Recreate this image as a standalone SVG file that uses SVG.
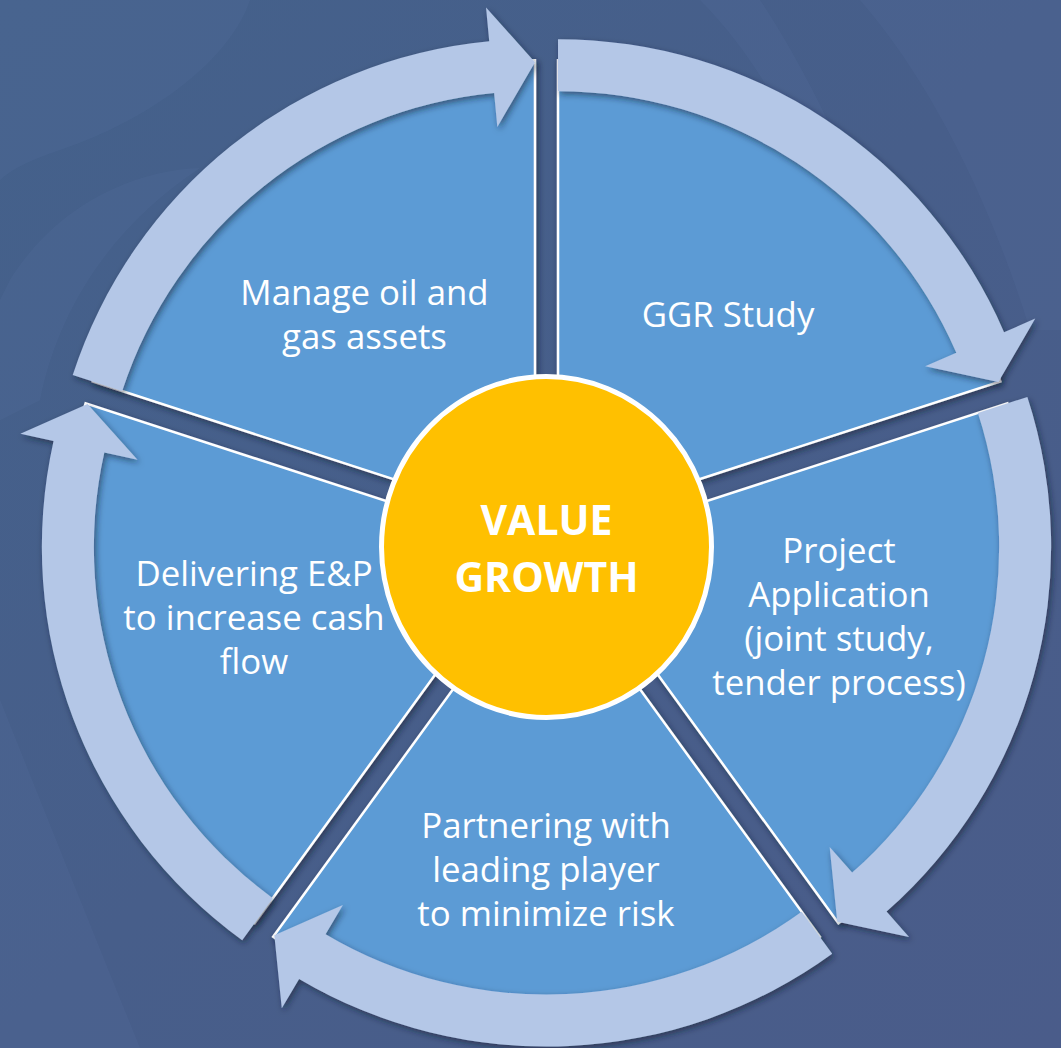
<svg xmlns="http://www.w3.org/2000/svg" width="1061" height="1048" viewBox="0 0 1061 1048">
  <defs>
    <linearGradient id="bg" x1="0" y1="0" x2="1" y2="1">
      <stop offset="0" stop-color="#44618B"/>
      <stop offset="0.5" stop-color="#475E8A"/>
      <stop offset="1" stop-color="#4A5C8A"/>
    </linearGradient>
    <filter id="sh" x="-10%" y="-10%" width="125%" height="125%">
      <feDropShadow dx="2" dy="3" stdDeviation="3" flood-color="#0f1a33" flood-opacity="0.55"/>
    </filter>
    <style>
      .wedge { fill: #5B9BD5; stroke: #FFFFFF; stroke-width: 2.5; stroke-linejoin: miter; }
      .arrow { fill: #B4C7E7; stroke: none; }
      .lbl { fill: #FFFFFF; font-family: "Open Sans", "Noto Sans", "Liberation Sans", sans-serif; font-size: 34.8px; text-anchor: middle; }
      .core { fill: #FFFFFF; font-family: "Open Sans", "Noto Sans", "Liberation Sans", sans-serif; font-size: 41px; font-weight: bold; text-anchor: middle; }
      .swirl { fill: #5B76A6; opacity: 0.16; }
    </style>
  </defs>

  <!-- background -->
  <rect x="0" y="0" width="1061" height="1048" fill="url(#bg)"/>
  <path class="swirl" d="M0,0 L250,0 C230,60 150,120 60,150 C30,160 10,170 0,180 Z"/>
  <path class="swirl" d="M10,280 C60,200 140,170 200,168 C120,220 60,300 40,400 L0,420 L0,300 Z"/>
  <path class="swirl" d="M700,0 C760,60 800,140 830,220 L870,220 C840,140 800,60 760,0 Z"/>
  <path class="swirl" d="M860,0 C930,80 990,200 1030,330 L1061,330 L1061,0 Z"/>
  <path class="swirl" d="M0,700 C40,800 80,900 140,1048 L0,1048 Z"/>

  <!-- nodes: wedges -->
  <g id="node-ggr" filter="url(#sh)">
    <path class="wedge" d="M558.02,525.14 L558.02,60.14 A465,465 0 0 1 1000.28,381.45 Z"/>
  </g>
  <g id="node-project" filter="url(#sh)">
    <path class="wedge" d="M565.14,547.06 L1007.40,403.37 A465,465 0 0 1 838.47,923.25 Z"/>
  </g>
  <g id="node-partnering" filter="url(#sh)">
    <path class="wedge" d="M546.5,560.6 L819.83,936.79 A465,465 0 0 1 273.17,936.79 Z"/>
  </g>
  <g id="node-delivering" filter="url(#sh)">
    <path class="wedge" d="M527.86,547.06 L254.53,923.25 A465,465 0 0 1 85.60,403.37 Z"/>
  </g>
  <g id="node-manage" filter="url(#sh)">
    <path class="wedge" d="M534.98,525.14 L92.72,381.45 A465,465 0 0 1 534.98,60.14 Z"/>
  </g>

  <!-- connectors: circular arrows -->
  <g id="connectors" filter="url(#sh)">
    <path class="arrow" d="M558.02,39.14 A486,486 0 0 1 1004.05,332.13 L1035.25,318.62 L998.37,382.07 L925.12,366.28 L956.32,352.78 A434,434 0 0 0 558.02,91.14 Z"/>
    <path class="arrow" d="M1027.37,396.89 A486,486 0 0 1 886.54,911.61 L909.02,937.12 L837.29,921.63 L829.66,847.10 L852.15,872.61 A434,434 0 0 0 977.92,412.95 Z"/>
    <path class="arrow" d="M832.17,953.77 A486,486 0 0 1 299.11,978.92 L281.80,1008.18 L274.35,935.17 L342.88,904.90 L325.58,934.16 A434,434 0 0 0 801.61,911.71 Z"/>
    <path class="arrow" d="M242.19,940.23 A486,486 0 0 1 53.56,441.04 L20.38,433.63 L87.51,403.99 L137.49,459.80 L104.31,452.39 A434,434 0 0 0 272.75,898.17 Z"/>
    <path class="arrow" d="M72.75,374.97 A486,486 0 0 1 489.24,41.30 L486.04,7.45 L534.98,62.14 L497.34,126.92 L494.14,93.07 A434,434 0 0 0 122.20,391.03 Z"/>
  </g>

  <!-- labels -->
  <g id="labels">
    <text class="lbl" x="364.5" y="305">Manage oil and</text>
    <text class="lbl" x="364.5" y="349">gas assets</text>
    <text class="lbl" x="728" y="327">GGR Study</text>
    <text class="lbl" x="839" y="563">Project</text>
    <text class="lbl" x="839" y="607">Application</text>
    <text class="lbl" x="839" y="651">(joint study,</text>
    <text class="lbl" x="839" y="695">tender process)</text>
    <text class="lbl" x="546" y="838">Partnering with</text>
    <text class="lbl" x="546" y="882">leading player</text>
    <text class="lbl" x="546" y="926">to minimize risk</text>
    <text class="lbl" x="254" y="586">Delivering E&amp;P</text>
    <text class="lbl" x="254" y="630">to increase cash</text>
    <text class="lbl" x="254" y="674">flow</text>
  </g>

  <!-- center node -->
  <g id="node-center">
    <ellipse cx="546.5" cy="547" rx="165" ry="170.5" fill="#FFC000" stroke="#FFFFFF" stroke-width="5"/>
    <text class="core" x="546.5" y="535">VALUE</text>
    <text class="core" x="546.5" y="592">GROWTH</text>
  </g>
</svg>
